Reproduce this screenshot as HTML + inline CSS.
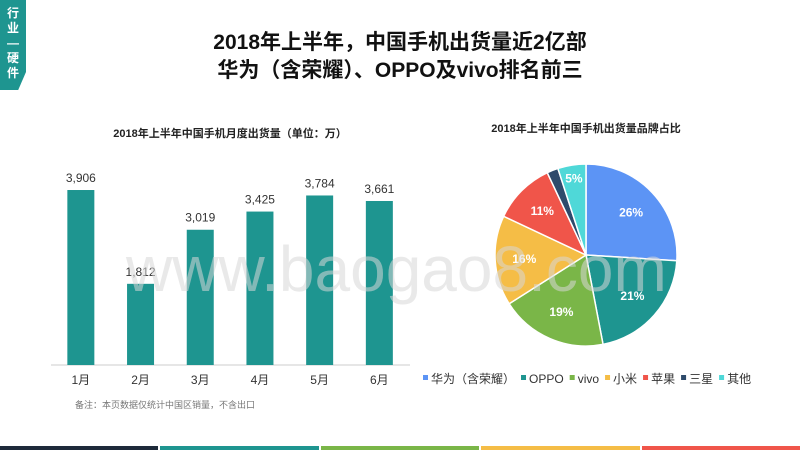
<!DOCTYPE html>
<html><head><meta charset="utf-8"><style>
body{margin:0;width:800px;height:450px;overflow:hidden;background:#fff;font-family:"Liberation Sans","Noto Sans CJK SC",sans-serif;position:relative}
.abs{position:absolute}
</style></head><body>
<div class="abs" style="left:0;top:0;width:26px;height:90px;background:#1e9590;clip-path:polygon(0 0,100% 0,100% 80%,70% 100%,0 100%)"></div>
<div class="abs" style="left:3px;top:6px;width:20px;color:#fff;font-size:12px;line-height:15px;text-align:center;font-weight:bold">行<br>业<br>—<br>硬<br>件</div>
<div class="abs" style="left:0;width:800px;top:29px;text-align:center;font-size:21px;font-weight:bold;line-height:28px;color:#111">2018年上半年，中国手机出货量近2亿部<br>华为（含荣耀）、OPPO及vivo排名前三</div>
<svg class="abs" style="left:0;top:0" width="800" height="450" id="svg"></svg>
<div class="abs" style="left:126px;top:232px;font-size:64px;color:rgba(215,215,215,0.55);letter-spacing:0px">www.baogao8.com</div>
<div class="abs" style="left:75px;top:398px;font-size:9px;color:#777">备注：本页数据仅统计中国区销量，不含出口</div>
<div class="abs" style="left:0;top:446px;width:800px;height:4px;display:flex;gap:2px">
<div style="flex:1;background:#1e2a3a"></div><div style="flex:1;background:#1e9590"></div><div style="flex:1;background:#7ab648"></div><div style="flex:1;background:#f5bd46"></div><div style="flex:1;background:#f0554a"></div></div>
<script>
const months=["1月","2月","3月","4月","5月","6月"];
const shipments=[3906,1812,3019,3425,3784,3661];
const brands=["华为（含荣耀）","OPPO","vivo","小米","苹果","三星","其他"];
const shares=[26,21,19,16,11,2,5];
const colors=["#5c94f5","#1e9590","#7ab648","#f5bd46","#f0554a","#2e4a6b","#4fd8d8"];
const NS="http://www.w3.org/2000/svg",svg=document.getElementById('svg');
function mk(t,a,txt){const e=document.createElementNS(NS,t);for(const k in a)e.setAttribute(k,a[k]);if(txt!=null)e.textContent=txt;svg.appendChild(e);return e;}
let e=mk('text',{x:230,y:137,'text-anchor':'middle','font-size':11,'font-weight':'bold',fill:'#222'},'2018年上半年中国手机月度出货量（单位：万）');


const base=365,x0=51,step=59.7,bw=27;
const y=v=>base-v*0.0448;
const xc=i=>x0+step*(i+0.5);
e=mk('line',{x1:51,x2:410,y1:base,y2:base,stroke:'#ccc','stroke-width':1});


shipments.forEach((v,i)=>{
 let r=mk('rect',{x:xc(i)-bw/2,y:y(v),width:bw,height:base-y(v),fill:'#1e9590'});
 
 
 let t=mk('text',{x:xc(i),y:y(v)-8,'text-anchor':'middle','font-size':12,fill:'#333'},v.toLocaleString('en-US'));
 
 
 let m=mk('text',{x:xc(i),y:384,'text-anchor':'middle','font-size':12,fill:'#333'},months[i]);
 
 
});
e=mk('text',{x:586,y:132,'text-anchor':'middle','font-size':11,'font-weight':'bold',fill:'#222'},'2018年上半年中国手机出货量品牌占比');


const cx=586,cy=255,R=91;
const tot=shares.reduce((a,b)=>a+b,0);
let acc=0;
shares.forEach((s,i)=>{
 const a0=acc/tot*2*Math.PI,a1=(acc+s)/tot*2*Math.PI;acc+=s;
 const p=a=>[cx+R*Math.sin(a),cy-R*Math.cos(a)];
 const [x1,y1]=p(a0),[x2,y2]=p(a1);
 let sl=mk('path',{d:`M${cx},${cy}L${x1},${y1}A${R},${R} 0 ${a1-a0>Math.PI?1:0} 1 ${x2},${y2}Z`,fill:colors[i],stroke:'#fff','stroke-width':1.5});
 
 
 if(s>=5){const am=(a0+a1)/2,rr=s<8?R*0.85:R*0.68;
  let t=mk('text',{x:cx+rr*Math.sin(am),y:cy-rr*Math.cos(am)+4,'text-anchor':'middle','font-size':12,'font-weight':'bold',fill:'#fff'},s+'%');
  
  }
});
let lx=423;
brands.forEach((b,i)=>{
 let r=mk('rect',{x:lx,y:375,width:5,height:5,fill:colors[i]});
 
 
 let t=mk('text',{x:lx+8,y:383,'font-size':12,fill:'#333'},b);
 
 
 lx+=8+t.getComputedTextLength()+6;
});
</script>
</body></html>
